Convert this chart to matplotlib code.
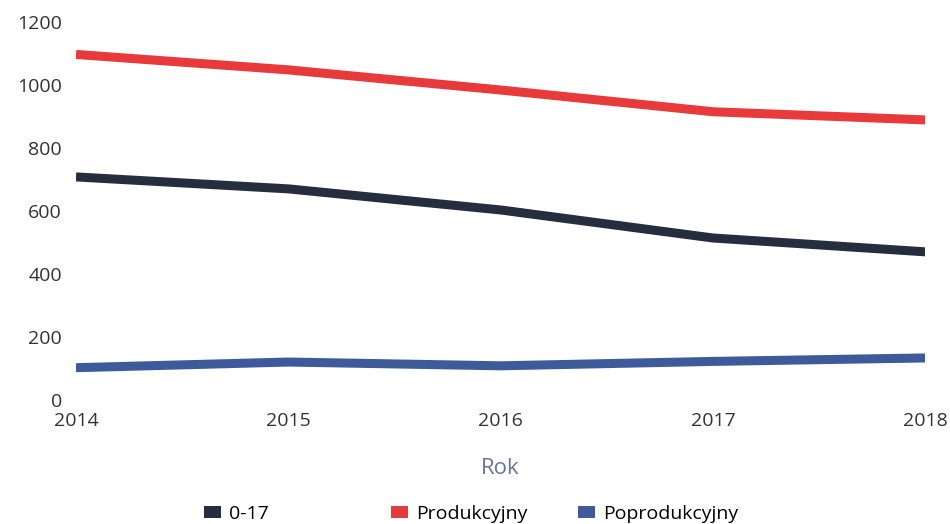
import matplotlib
matplotlib.use("Agg")
import matplotlib.pyplot as plt
from matplotlib.patches import Patch

plt.rcParams['font.family'] = ['Open Sans', 'DejaVu Sans']

years = [2014, 2015, 2016, 2017, 2018]
age_0_17 = [708, 670, 603, 514, 470]
produkcyjny = [1097, 1048, 984, 915, 889]
poprodukcyjny = [102, 120, 108, 122, 133]

labels = ['0-17', 'Produkcyjny', 'Poprodukcyjny']
colors = ['#262d3f', '#e8393b', '#3d5a9a']

fig = plt.figure(figsize=(9.5, 5.24), dpi=100)
ax = fig.add_axes([0.08, 0.237, 0.894, 0.721])

for vals, c in zip([age_0_17, produkcyjny, poprodukcyjny], colors):
    ax.plot(years, vals, color=c, linewidth=6.5, solid_capstyle='butt')

ax.set_xlim(2014, 2018)
ax.set_ylim(0, 1200)
ax.set_xticks(years)
ax.set_yticks(range(0, 1201, 200))
ax.tick_params(axis='both', length=0, labelsize=14, labelcolor='#333333')
ax.tick_params(axis='x', pad=9)
ax.tick_params(axis='y', pad=10)
for s in ax.spines.values():
    s.set_visible(False)

ax.set_xlabel('Rok', fontsize=16, color='#6b7599', labelpad=20)

# fixed-width legend columns, like the original
legend_x = [0.198, 0.395, 0.592]
for lab, c, lx in zip(labels, colors, legend_x):
    leg = fig.legend([Patch(facecolor=c, edgecolor='none')], [lab],
                     loc='lower left', bbox_to_anchor=(lx, -0.028),
                     frameon=False, fontsize=14, handlelength=0.9,
                     handleheight=0.6, handletextpad=0.4, borderpad=0.3)
    leg.set_in_layout(False)

fig.savefig('out.png', dpi=100)
